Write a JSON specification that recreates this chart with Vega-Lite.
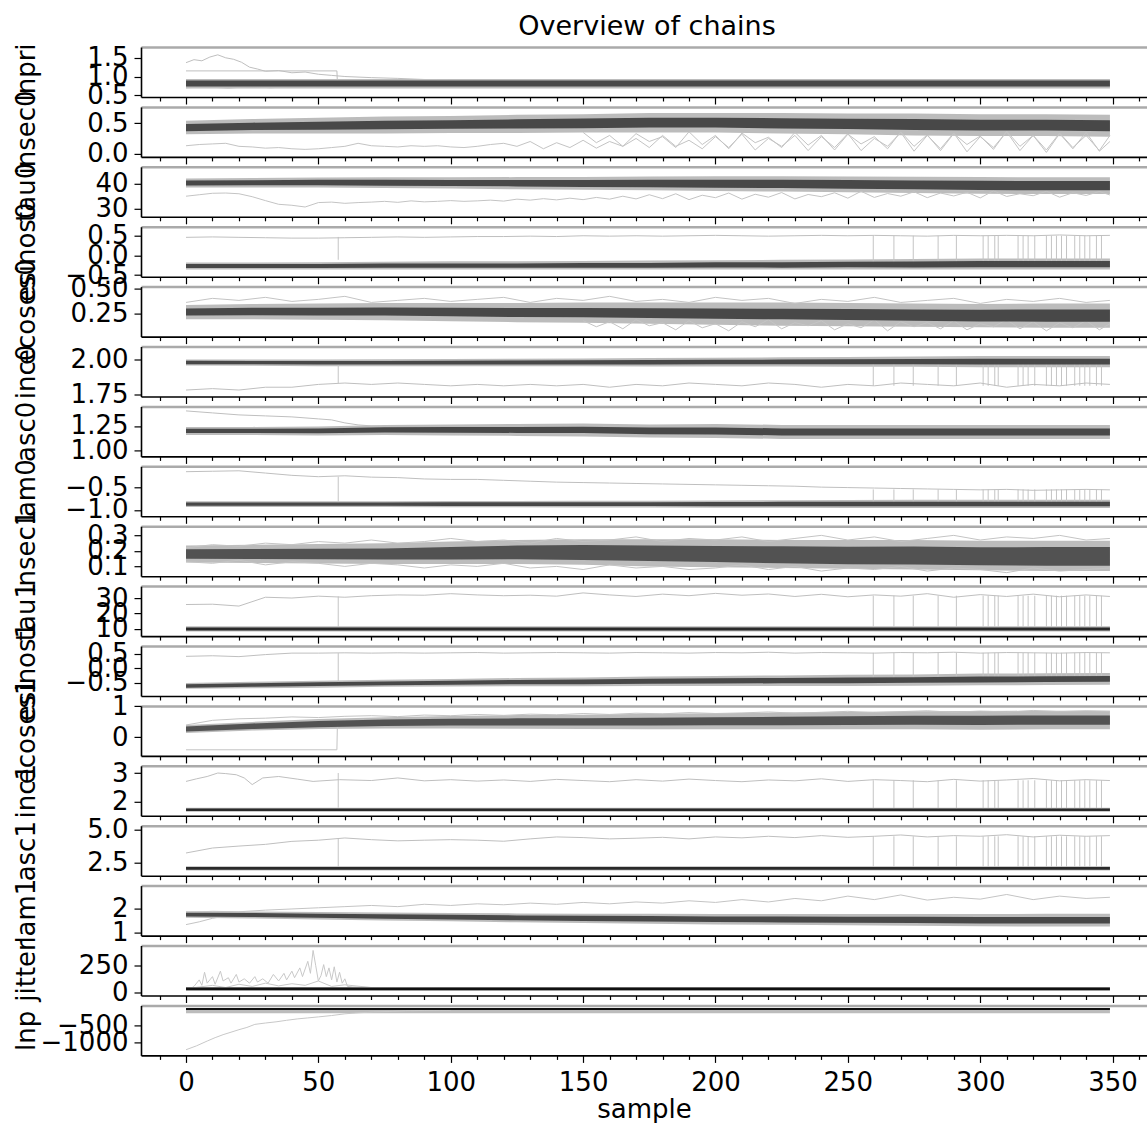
{
  "$schema": "https://vega.github.io/schema/vega-lite/v6.json",
  "padding": {"left": 13, "top": 13, "right": 0, "bottom": 0},
  "background": "white",
  "title": {"text": "Overview of chains", "font": "DejaVu Sans", "fontSize": 27, "fontWeight": "normal", "color": "#000000", "frame": "group", "anchor": "middle", "baseline": "alphabetic", "offset": -19.5, "dx": 3},
  "spacing": 9.9,
  "bounds": "flush",
  "datasets": {
    "band": [
      {"p": "lnpri", "s": [0,25,50,75,100,125,150,175,200,225,250,275,300,325,349], "l1": [0.73,0.73,0.73,0.73,0.73,0.73,0.73,0.73,0.73,0.73,0.73,0.73,0.73,0.73,0.73], "h1": [0.89,0.89,0.89,0.89,0.89,0.89,0.89,0.89,0.89,0.89,0.89,0.89,0.89,0.89,0.89], "l2": [0.68,0.68,0.68,0.68,0.68,0.68,0.68,0.68,0.68,0.68,0.68,0.68,0.68,0.68,0.68], "h2": [0.93,0.93,0.93,0.93,0.93,0.93,0.93,0.93,0.93,0.93,0.93,0.93,0.93,0.93,0.93]},
      {"p": "insec0", "s": [0,25,50,75,100,125,150,175,200,225,250,275,300,325,349], "l1": [0.37,0.39,0.395,0.40,0.41,0.415,0.42,0.43,0.43,0.415,0.405,0.39,0.38,0.38,0.37], "h1": [0.49,0.51,0.525,0.54,0.55,0.565,0.58,0.59,0.59,0.585,0.575,0.57,0.56,0.56,0.55], "l2": [0.32,0.33,0.33,0.33,0.34,0.34,0.35,0.35,0.35,0.33,0.32,0.30,0.29,0.29,0.28], "h2": [0.54,0.57,0.59,0.61,0.62,0.64,0.65,0.67,0.67,0.67,0.66,0.66,0.65,0.65,0.64]},
      {"p": "tau0", "s": [0,25,50,75,100,125,150,175,200,225,250,275,300,325,349], "l1": [39.4,39.5,39.5,39.3,39.2,39.0,38.8,38.7,38.5,38.3,38.0,37.8,37.5,37.4,37.4], "h1": [41.4,41.5,41.7,41.7,41.6,41.6,41.6,41.7,41.7,41.7,41.6,41.4,41.3,41.2,41.2], "l2": [38.6,38.6,38.6,38.3,38.1,37.8,37.6,37.4,37.1,36.9,36.6,36.3,36.0,35.9,35.9], "h2": [42.2,42.4,42.6,42.7,42.7,42.8,42.8,43.0,43.1,43.1,43.0,42.9,42.8,42.7,42.7]},
      {"p": "esinos0", "s": [0,25,50,75,100,125,150,175,200,225,250,275,300,325,349], "l1": [-0.32,-0.32,-0.32,-0.315,-0.315,-0.315,-0.31,-0.31,-0.305,-0.31,-0.30,-0.305,-0.30,-0.30,-0.30], "h1": [-0.22,-0.22,-0.22,-0.205,-0.205,-0.205,-0.19,-0.19,-0.175,-0.17,-0.16,-0.155,-0.14,-0.14,-0.14], "l2": [-0.36,-0.36,-0.36,-0.36,-0.36,-0.36,-0.36,-0.36,-0.36,-0.36,-0.36,-0.36,-0.36,-0.36,-0.36], "h2": [-0.18,-0.18,-0.17,-0.16,-0.15,-0.15,-0.14,-0.13,-0.12,-0.11,-0.10,-0.09,-0.08,-0.08,-0.08]},
      {"p": "ecoses0", "s": [0,25,50,75,100,125,150,175,200,225,250,275,300,325,349], "l1": [0.23,0.233,0.232,0.23,0.223,0.216,0.214,0.207,0.2,0.193,0.186,0.18,0.172,0.17,0.17], "h1": [0.30,0.307,0.308,0.31,0.307,0.304,0.306,0.303,0.3,0.297,0.294,0.29,0.288,0.29,0.29], "l2": [0.195,0.195,0.19,0.185,0.175,0.165,0.16,0.15,0.14,0.13,0.125,0.12,0.115,0.11,0.11], "h2": [0.335,0.345,0.35,0.355,0.355,0.355,0.36,0.36,0.36,0.36,0.355,0.35,0.345,0.35,0.35]},
      {"p": "inc0", "s": [0,25,50,75,100,125,150,175,200,225,250,275,300,325,349], "l1": [1.964,1.963,1.961,1.961,1.961,1.962,1.962,1.962,1.963,1.963,1.963,1.963,1.962,1.962,1.962], "h1": [1.988,1.987,1.987,1.987,1.989,1.99,1.992,1.994,1.995,1.997,1.999,2.001,2.002,2.002,2.002], "l2": [1.954,1.953,1.95,1.949,1.949,1.949,1.949,1.948,1.948,1.947,1.946,1.945,1.942,1.942,1.942], "h2": [1.998,1.997,1.998,1.999,2.001,2.003,2.005,2.008,2.01,2.013,2.016,2.019,2.022,2.022,2.022]},
      {"p": "asc0", "s": [0,25,50,75,100,125,150,175,200,225,250,275,300,325,349], "l1": [1.178,1.178,1.176,1.184,1.182,1.18,1.178,1.166,1.165,1.155,1.155,1.155,1.155,1.155,1.155], "h1": [1.222,1.222,1.224,1.236,1.238,1.24,1.242,1.234,1.235,1.225,1.225,1.225,1.225,1.225,1.225], "l2": [1.16,1.16,1.155,1.16,1.155,1.15,1.145,1.135,1.13,1.12,1.12,1.12,1.12,1.12,1.12], "h2": [1.24,1.24,1.245,1.26,1.265,1.27,1.275,1.265,1.27,1.26,1.26,1.26,1.26,1.26,1.26]},
      {"p": "lam0", "s": [0,25,50,75,100,125,150,175,200,225,250,275,300,325,349], "l1": [-0.91,-0.91,-0.91,-0.912,-0.914,-0.915,-0.917,-0.918,-0.92,-0.92,-0.92,-0.92,-0.92,-0.92,-0.92], "h1": [-0.84,-0.84,-0.84,-0.838,-0.836,-0.835,-0.833,-0.832,-0.83,-0.825,-0.822,-0.82,-0.82,-0.82,-0.82], "l2": [-0.937,-0.937,-0.94,-0.94,-0.945,-0.945,-0.95,-0.95,-0.955,-0.955,-0.96,-0.96,-0.96,-0.96,-0.96], "h2": [-0.813,-0.813,-0.81,-0.81,-0.805,-0.805,-0.8,-0.8,-0.795,-0.79,-0.785,-0.78,-0.78,-0.78,-0.78]},
      {"p": "insec1", "s": [0,25,50,75,100,125,150,175,200,225,250,275,300,325,349], "l1": [0.15,0.148,0.146,0.144,0.145,0.146,0.142,0.135,0.128,0.12,0.114,0.112,0.107,0.105,0.105], "h1": [0.21,0.212,0.214,0.216,0.225,0.234,0.238,0.235,0.232,0.23,0.226,0.228,0.223,0.225,0.225], "l2": [0.125,0.122,0.118,0.115,0.115,0.115,0.11,0.1,0.095,0.09,0.085,0.08,0.075,0.07,0.07], "h2": [0.235,0.24,0.245,0.25,0.26,0.27,0.275,0.275,0.275,0.27,0.27,0.27,0.265,0.265,0.265]},
      {"p": "tau1", "s": [0,25,50,75,100,125,150,175,200,225,250,275,300,325,349], "l1": [9.0,9.0,9.0,9.0,9.0,9.0,9.0,9.0,9.0,9.0,9.0,9.0,9.0,9.0,9.0], "h1": [11.0,11.0,11.0,11.0,11.0,11.0,11.0,11.0,11.0,11.0,11.0,11.0,11.0,11.0,11.0], "l2": [8.3,8.3,8.3,8.3,8.3,8.3,8.3,8.3,8.3,8.3,8.3,8.3,8.3,8.3,8.3], "h2": [11.7,11.7,11.7,11.7,11.7,11.7,11.7,11.7,11.7,11.7,11.7,11.7,11.7,11.7,11.7]},
      {"p": "esinos1", "s": [0,25,50,75,100,125,150,175,200,225,250,275,300,325,349], "l1": [-0.66,-0.63,-0.605,-0.575,-0.56,-0.545,-0.54,-0.525,-0.52,-0.51,-0.505,-0.495,-0.48,-0.47,-0.46], "h1": [-0.54,-0.51,-0.475,-0.445,-0.42,-0.395,-0.38,-0.355,-0.34,-0.33,-0.315,-0.305,-0.28,-0.27,-0.26], "l2": [-0.70,-0.68,-0.66,-0.63,-0.62,-0.61,-0.61,-0.60,-0.60,-0.60,-0.60,-0.59,-0.58,-0.57,-0.56], "h2": [-0.50,-0.46,-0.42,-0.39,-0.36,-0.33,-0.31,-0.28,-0.26,-0.24,-0.22,-0.21,-0.18,-0.17,-0.16]},
      {"p": "ecoses1", "s": [0,25,50,75,100,125,150,175,200,225,250,275,300,325,349], "l1": [0.19,0.27,0.33,0.365,0.38,0.385,0.38,0.385,0.39,0.395,0.40,0.405,0.40,0.41,0.41], "h1": [0.35,0.45,0.53,0.575,0.60,0.615,0.62,0.635,0.65,0.665,0.68,0.695,0.70,0.71,0.71], "l2": [0.14,0.22,0.27,0.29,0.29,0.28,0.27,0.26,0.26,0.26,0.26,0.26,0.25,0.26,0.26], "h2": [0.40,0.50,0.59,0.65,0.69,0.72,0.73,0.76,0.78,0.80,0.82,0.84,0.85,0.86,0.86]},
      {"p": "inc1", "s": [0,25,50,75,100,125,150,175,200,225,250,275,300,325,349], "l1": [1.69,1.69,1.69,1.69,1.69,1.69,1.69,1.69,1.69,1.69,1.69,1.69,1.69,1.69,1.69], "h1": [1.77,1.77,1.77,1.77,1.77,1.77,1.77,1.77,1.77,1.77,1.77,1.77,1.77,1.77,1.77], "l2": [1.66,1.66,1.66,1.66,1.66,1.66,1.66,1.66,1.66,1.66,1.66,1.66,1.66,1.66,1.66], "h2": [1.80,1.80,1.80,1.80,1.80,1.80,1.80,1.80,1.80,1.80,1.80,1.80,1.80,1.80,1.80]},
      {"p": "asc1", "s": [0,25,50,75,100,125,150,175,200,225,250,275,300,325,349], "l1": [1.94,1.94,1.94,1.94,1.94,1.94,1.94,1.94,1.94,1.94,1.94,1.94,1.94,1.94,1.94], "h1": [2.14,2.14,2.14,2.14,2.14,2.14,2.14,2.14,2.14,2.14,2.14,2.14,2.14,2.14,2.14], "l2": [1.88,1.88,1.88,1.88,1.88,1.88,1.88,1.88,1.88,1.88,1.88,1.88,1.88,1.88,1.88], "h2": [2.20,2.20,2.20,2.20,2.20,2.20,2.20,2.20,2.20,2.20,2.20,2.20,2.20,2.20,2.20]},
      {"p": "lam1", "s": [0,25,50,75,100,125,150,175,200,225,250,275,300,325,349], "l1": [1.68,1.655,1.62,1.585,1.55,1.515,1.49,1.465,1.44,1.425,1.41,1.395,1.38,1.38,1.38], "h1": [1.84,1.825,1.80,1.775,1.75,1.725,1.71,1.695,1.68,1.675,1.67,1.665,1.66,1.66,1.66], "l2": [1.62,1.59,1.55,1.51,1.47,1.43,1.40,1.37,1.34,1.32,1.30,1.28,1.26,1.25,1.25], "h2": [1.90,1.89,1.87,1.85,1.83,1.81,1.80,1.79,1.78,1.78,1.78,1.78,1.78,1.79,1.79]},
      {"p": "jitter", "s": [0,25,50,75,100,125,150,175,200,225,250,275,300,325,349], "l1": [24,24,24,24,24,24,24,24,24,24,24,24,24,24,24], "h1": [50,50,50,50,50,50,50,50,50,50,50,50,50,50,50], "l2": [20,20,20,20,20,20,20,20,20,20,20,20,20,20,20], "h2": [55,55,55,55,55,55,55,55,55,55,55,55,55,55,55]},
      {"p": "lnp", "s": [0,25,50,75,100,125,150,175,200,225,250,275,300,325,349], "l1": [-45,-45,-45,-45,-45,-45,-45,-45,-45,-45,-45,-45,-45,-45,-45], "h1": [8,8,8,8,8,8,8,8,8,8,8,8,8,8,8], "l2": [-140,-140,-140,-140,-140,-140,-140,-140,-140,-140,-140,-140,-140,-140,-140], "h2": [12,12,12,12,12,12,12,12,12,12,12,12,12,12,12]}
    ],
    "chain": [
      {"p": "lnpri", "c": "a", "s": [0,3,6,9,12,15,18,21,24,27,30,35,40,45,50,55,60,70,80,90,100,110,120], "v": [1.37,1.45,1.42,1.52,1.58,1.50,1.46,1.38,1.25,1.20,1.14,1.16,1.10,1.12,1.06,1.03,1.00,0.97,0.95,0.92,0.90,0.87,0.84]},
      {"p": "lnpri", "c": "b", "s": [0,57,57.2], "v": [1.15,1.15,0.82]},
      {"p": "lnpri", "c": "c", "s": [0,8,16,24,32,40,48,56,64], "v": [0.70,0.72,0.69,0.73,0.70,0.73,0.72,0.75,0.77]},
      {"p": "insec0", "c": "a", "s": [0,5,10,15,20,25,30,35,40,45,50,55,60,65,70,75,80,85,90,95,100,105,110,115,120,125,130,135,140,145,150,155,160,165,170,175,180,185,190,195,200,205,210,215,220,225,230,235,240,245,250,255,260,265,270,275,280,285,290,295,300,305,310,315,320,325,330,335,340,345,349], "v": [0.13,0.15,0.16,0.17,0.12,0.11,0.09,0.10,0.08,0.07,0.08,0.10,0.12,0.17,0.13,0.12,0.11,0.13,0.12,0.13,0.11,0.10,0.12,0.15,0.17,0.12,0.20,0.08,0.18,0.10,0.22,0.09,0.20,0.12,0.25,0.10,0.30,0.12,0.22,0.08,0.28,0.10,0.32,0.06,0.25,0.12,0.30,0.05,0.28,0.10,0.33,0.05,0.25,0.12,0.35,0.04,0.30,0.08,0.34,0.03,0.28,0.10,0.36,0.05,0.30,0.02,0.33,0.08,0.35,0.04,0.20]},
      {"p": "insec0", "c": "b", "s": [150,155,160,165,170,175,180,185,190,195,200,205,210,215,220,225,230,235,240,245,250,255,260,265,270,275,280,285,290,295,300,305,310,315,320,325,330,335,340,345,349], "v": [0.35,0.18,0.30,0.12,0.33,0.2,0.28,0.1,0.36,0.15,0.3,0.08,0.34,0.18,0.27,0.1,0.35,0.14,0.3,0.06,0.32,0.16,0.28,0.08,0.36,0.12,0.31,0.05,0.33,0.15,0.29,0.07,0.37,0.12,0.3,0.06,0.34,0.1,0.3,0.05,0.3]},
      {"p": "tau0", "c": "a", "s": [0,5,10,15,20,25,30,35,40,45,50,55,60,65,70,75,80,85,90,95,100,105,110,115,120,125,130,135,140,145,150,155,160,165,170,175,180,185,190,195,200,205,210,215,220,225,230,235,240,245,250,255,260,265,270,275,280,285,290,295,300,305,310,315,320,325,330,335,340,345,349], "v": [35.0,35.6,36.2,36.3,36.0,34.8,33.2,31.7,31.3,30.6,32.4,32.6,32.1,32.4,32.6,32.9,32.5,33.1,32.7,32.9,33.2,32.9,33.1,33.4,33.0,33.8,33.4,34.0,33.5,34.2,33.6,34.5,33.8,35.0,33.9,35.6,34.0,36.0,33.6,35.4,34.4,36.3,33.8,35.8,34.6,36.5,33.9,35.7,34.8,36.4,34.2,37.0,34.5,36.1,35.0,36.8,34.4,36.3,35.1,36.6,34.3,37.2,34.9,36.0,35.2,37.0,34.6,36.4,35.3,36.9,35.5]},
      {"p": "esinos0", "c": "a", "s": [0,10,20,30,40,50,60,70,80,90,100,110,120,130,140,150,160,170,180,190,200,210,220,230,240,250,260,270,280,290,300,310,320,330,340,349], "v": [0.46,0.47,0.46,0.45,0.44,0.44,0.45,0.46,0.47,0.46,0.47,0.48,0.48,0.49,0.48,0.50,0.49,0.50,0.49,0.50,0.51,0.50,0.49,0.50,0.51,0.50,0.51,0.50,0.49,0.51,0.50,0.51,0.50,0.52,0.50,0.51]},
      {"p": "ecoses0", "c": "a", "s": [0,10,20,30,40,50,60,70,80,90,100,110,120,130,140,150,160,170,180,190,200,210,220,230,240,250,260,270,280,290,300,310,320,330,340,349], "v": [0.36,0.40,0.38,0.41,0.37,0.39,0.42,0.36,0.38,0.40,0.37,0.39,0.41,0.36,0.40,0.38,0.42,0.37,0.39,0.36,0.41,0.38,0.40,0.35,0.39,0.37,0.41,0.36,0.38,0.40,0.35,0.39,0.37,0.40,0.36,0.38]},
      {"p": "ecoses0", "c": "b", "s": [150,155,160,165,170,175,180,185,190,195,200,205,210,215,220,225,230,235,240,245,250,255,260,265,270,275,280,285,290,295,300,305,310,315,320,325,330,335,340,345,349], "v": [0.18,0.12,0.17,0.10,0.19,0.13,0.16,0.09,0.18,0.11,0.15,0.08,0.17,0.12,0.19,0.10,0.16,0.13,0.18,0.09,0.15,0.11,0.19,0.08,0.17,0.12,0.16,0.10,0.18,0.09,0.15,0.12,0.19,0.10,0.17,0.08,0.16,0.11,0.18,0.09,0.15]},
      {"p": "inc0", "c": "a", "s": [0,10,20,30,40,50,60,70,80,90,100,110,120,130,140,150,160,170,180,190,200,210,220,230,240,250,260,270,280,290,300,310,320,330,340,349], "v": [1.78,1.79,1.78,1.80,1.80,1.82,1.83,1.82,1.83,1.82,1.81,1.82,1.81,1.82,1.81,1.82,1.80,1.82,1.81,1.83,1.82,1.81,1.83,1.82,1.80,1.82,1.81,1.83,1.82,1.81,1.83,1.80,1.82,1.81,1.83,1.82]},
      {"p": "asc0", "c": "a", "s": [0,10,20,30,40,50,55,60,65,70,80,90], "v": [1.40,1.38,1.36,1.35,1.34,1.32,1.31,1.28,1.26,1.25,1.24,1.23]},
      {"p": "lam0", "c": "a", "s": [0,10,20,30,40,50,60,70,80,90,100,110,120,130,140,150,160,170,180,190,200,210,220,230,240,250,260,270,280,290,300,310,320,330,340,349], "v": [-0.16,-0.15,-0.14,-0.19,-0.24,-0.27,-0.25,-0.28,-0.29,-0.32,-0.33,-0.33,-0.35,-0.37,-0.39,-0.40,-0.41,-0.42,-0.43,-0.44,-0.45,-0.46,-0.47,-0.48,-0.50,-0.51,-0.52,-0.53,-0.54,-0.55,-0.56,-0.55,-0.57,-0.56,-0.55,-0.56]},
      {"p": "insec1", "c": "a", "s": [0,10,20,30,40,50,60,70,80,90,100,110,120,130,140,150,160,170,180,190,200,210,220,230,240,250,260,270,280,290,300,310,320,330,340,349], "v": [0.22,0.24,0.23,0.25,0.24,0.26,0.25,0.27,0.25,0.26,0.28,0.26,0.27,0.25,0.28,0.26,0.27,0.29,0.26,0.28,0.27,0.29,0.26,0.28,0.30,0.27,0.29,0.26,0.28,0.30,0.27,0.29,0.28,0.30,0.27,0.28]},
      {"p": "insec1", "c": "b", "s": [0,10,20,30,40,50,60,70,80,90,100,110,120,130,140,150,160,170,180,190,200,210,220,230,240,250,260,270,280,290,300,310,320,330,340,349], "v": [0.13,0.12,0.14,0.11,0.13,0.12,0.10,0.12,0.11,0.09,0.11,0.10,0.12,0.09,0.10,0.08,0.11,0.09,0.10,0.08,0.09,0.11,0.08,0.10,0.07,0.09,0.08,0.10,0.07,0.09,0.08,0.06,0.09,0.07,0.08,0.09]},
      {"p": "tau1", "c": "a", "s": [0,10,20,30,40,50,60,70,80,90,100,110,120,130,140,150,160,170,180,190,200,210,220,230,240,250,260,270,280,290,300,310,320,330,340,349], "v": [25.8,26.0,24.8,30.5,30.0,31.2,30.5,31.5,32.0,31.8,32.8,32.0,31.5,31.8,31.2,33.3,32.0,31.0,32.5,31.5,33.0,31.8,32.6,31.0,32.4,30.8,32.0,31.2,32.8,30.5,32.2,31.0,32.5,30.8,32.0,31.0]},
      {"p": "esinos1", "c": "a", "s": [0,10,20,30,40,50,60,70,80,90,100,110,120,130,140,150,160,170,180,190,200,210,220,230,240,250,260,270,280,290,300,310,320,330,340,349], "v": [0.41,0.43,0.40,0.47,0.52,0.52,0.53,0.52,0.53,0.52,0.53,0.54,0.52,0.53,0.54,0.53,0.52,0.54,0.53,0.52,0.54,0.53,0.55,0.52,0.54,0.53,0.52,0.54,0.53,0.55,0.52,0.54,0.53,0.52,0.54,0.53]},
      {"p": "ecoses1", "c": "a", "s": [0,10,20,30,40,50,60,70,80,90,100,110,120,130,140,150,160,170,180,190,200,210,220,230,240,250,260,270,280,290,300,310,320,330,340,349], "v": [0.40,0.55,0.60,0.62,0.66,0.64,0.68,0.70,0.67,0.72,0.70,0.74,0.71,0.75,0.73,0.77,0.74,0.78,0.76,0.80,0.77,0.79,0.82,0.78,0.81,0.84,0.80,0.83,0.86,0.81,0.85,0.82,0.87,0.83,0.86,0.84]},
      {"p": "ecoses1", "c": "b", "s": [0,57,57.2], "v": [-0.4,-0.4,0.45]},
      {"p": "inc1", "c": "a", "s": [0,4,8,12,15,19,22,25,29,35,42,48,58,70,80,90,100,110,120,130,140,150,160,170,180,190,200,210,220,230,240,250,260,270,280,290,300,310,320,330,340,349], "v": [2.71,2.80,2.88,3.00,2.98,2.94,2.83,2.60,2.83,2.88,2.79,2.71,2.77,2.74,2.83,2.73,2.77,2.72,2.76,2.71,2.78,2.74,2.70,2.77,2.72,2.79,2.74,2.70,2.76,2.73,2.80,2.71,2.77,2.74,2.70,2.78,2.72,2.76,2.81,2.73,2.77,2.74]},
      {"p": "asc1", "c": "a", "s": [0,10,20,30,40,50,60,70,80,90,100,110,120,130,140,150,160,170,180,190,200,210,220,230,240,250,260,270,280,290,300,310,320,330,340,349], "v": [3.22,3.60,3.75,3.88,4.11,4.20,4.37,4.24,4.15,4.20,4.24,4.20,4.12,4.30,4.45,4.40,4.30,4.35,4.42,4.30,4.45,4.38,4.50,4.40,4.55,4.42,4.50,4.60,4.45,4.55,4.50,4.62,4.45,4.58,4.50,4.55]},
      {"p": "lam1", "c": "a", "s": [0,10,20,30,40,50,60,70,80,90,100,110,120,130,140,150,160,170,180,190,200,210,220,230,240,250,260,270,280,290,300,310,320,330,340,349], "v": [1.85,1.90,1.88,1.95,2.00,2.05,2.10,2.15,2.10,2.20,2.15,2.22,2.18,2.25,2.20,2.28,2.22,2.30,2.25,2.35,2.28,2.40,2.30,2.45,2.35,2.55,2.40,2.60,2.38,2.50,2.42,2.62,2.40,2.55,2.45,2.50]},
      {"p": "lam1", "c": "b", "s": [0,5,10,15], "v": [1.33,1.45,1.6,1.7]},
      {"p": "jitter", "c": "a", "s": [0,2,3,5,6,7,8,10,11,13,14,16,17,19,20,22,24,26,27,29,31,33,35,37,38,40,41,43,44,46,47,48,49,50,51,52,53,54,55,56,57,58,59,60,61,63,70,80,90,100,349], "v": [40,45,60,120,70,190,90,150,80,200,110,140,90,170,100,130,90,150,100,130,90,170,110,180,120,200,140,230,150,290,180,390,250,110,160,260,150,230,120,240,100,190,90,130,60,55,50,48,42,40,38]},
      {"p": "jitter", "c": "b", "s": [0,5,10,15,20,25,30,35,40,45,50,55,60,70,80,90,100], "v": [40,55,70,50,80,60,90,65,85,70,110,60,75,50,48,45,40]},
      {"p": "lnp", "c": "a", "s": [0,4,8,11,14,17,20,23,26,30,34,38,42,46,50,55,60,65,71,77,83,90,100], "v": [-1215,-1100,-960,-860,-773,-700,-626,-560,-470,-430,-395,-350,-310,-280,-250,-210,-160,-130,-106,-90,-70,-60,-50]}
    ],
    "jump": [
      {"p": "esinos0", "s": [57.5], "y1": -0.11, "y2": 0.47},
      {"p": "esinos0", "s": [259.6,267.4,274.7,284.1,291,301.1,303,305.5,306.8,314.3,316.2,318.1,320.6,325,326.9,328.8,330.7,332.6,335.7,337.6,339.5,341.4,343.9,345.8], "y1": -0.22, "y2": 0.5},
      {"p": "inc0", "s": [57.5], "y1": 1.83, "y2": 1.96},
      {"p": "inc0", "s": [259.6,267.4,274.7,284.1,291,301.1,303,305.5,306.8,314.3,316.2,318.1,320.6,325,326.9,328.8,330.7,332.6,335.7,337.6,339.5,341.4,343.9,345.8], "y1": 1.81, "y2": 1.98},
      {"p": "lam0", "s": [57.5], "y1": -0.85, "y2": -0.27},
      {"p": "lam0", "s": [259.6,267.4,274.7,284.1,291,301.1,303,305.5,306.8,314.3,316.2,318.1,320.6,325,326.9,328.8,330.7,332.6,335.7,337.6,339.5,341.4,343.9,345.8], "y1": -0.87, "y2": -0.55},
      {"p": "tau1", "s": [57.5], "y1": 10, "y2": 31},
      {"p": "tau1", "s": [259.6,267.4,274.7,284.1,291,301.1,303,305.5,306.8,314.3,316.2,318.1,320.6,325,326.9,328.8,330.7,332.6,335.7,337.6,339.5,341.4,343.9,345.8], "y1": 10, "y2": 31.5},
      {"p": "esinos1", "s": [57.5], "y1": -0.56, "y2": 0.52},
      {"p": "esinos1", "s": [259.6,267.4,274.7,284.1,291,301.1,303,305.5,306.8,314.3,316.2,318.1,320.6,325,326.9,328.8,330.7,332.6,335.7,337.6,339.5,341.4,343.9,345.8], "y1": -0.36, "y2": 0.53},
      {"p": "inc1", "s": [57.5], "y1": 1.8, "y2": 3.0},
      {"p": "inc1", "s": [259.6,267.4,274.7,284.1,291,301.1,303,305.5,306.8,314.3,316.2,318.1,320.6,325,326.9,328.8,330.7,332.6,335.7,337.6,339.5,341.4,343.9,345.8], "y1": 1.73, "y2": 2.75},
      {"p": "asc1", "s": [57.5], "y1": 2.07, "y2": 4.37},
      {"p": "asc1", "s": [259.6,267.4,274.7,284.1,291,301.1,303,305.5,306.8,314.3,316.2,318.1,320.6,325,326.9,328.8,330.7,332.6,335.7,337.6,339.5,341.4,343.9,345.8], "y1": 2.04, "y2": 4.5}
    ]
  },
  "vconcat": [
    {"width": 1006, "height": 50, "resolve": {"axis": {"x": "independent", "y": "independent"}}, "layer": [
      {"data": {"name": "band"}, "transform": [{"filter": "datum.p === 'lnpri'"}, {"flatten": ["s","l1","h1","l2","h2"]}], "mark": {"type": "area", "color": "#7a7a7a", "opacity": 0.5, "clip": true}, "encoding": {"x": {"field": "s", "type": "quantitative", "scale": {"domain": [-17, 363], "nice": false, "zero": false}, "axis": {"orient": "bottom", "values": [0,50,100,150,200,250,300,350], "title": null}}, "y": {"field": "l2", "type": "quantitative", "scale": {"domain": [0.452, 1.789], "nice": false, "zero": false}, "axis": {"orient": "left", "values": [0.5,1.5], "format": ".1f", "title": "lnpri"}}, "y2": {"field": "h2"}}},
      {"data": {"name": "chain"}, "transform": [{"filter": "datum.p === 'lnpri'"}, {"flatten": ["s","v"]}], "mark": {"type": "line", "color": "#bfbfbf", "strokeWidth": 1, "clip": true}, "encoding": {"x": {"field": "s", "type": "quantitative", "axis": {"orient": "top", "domainColor": "#aaaaaa", "domainWidth": 2.5, "ticks": false, "labels": false, "title": null}}, "y": {"field": "v", "type": "quantitative", "axis": {"orient": "left", "values": [1], "format": ".1f", "domain": false, "title": null}}, "detail": {"field": "c", "type": "nominal"}}},
      {"data": {"name": "band"}, "transform": [{"filter": "datum.p === 'lnpri'"}, {"flatten": ["s","l1","h1","l2","h2"]}], "mark": {"type": "area", "color": "#383838", "opacity": 0.88, "clip": true}, "encoding": {"x": {"field": "s", "type": "quantitative", "axis": {"orient": "bottom", "values": [-10,10,20,30,40,60,70,80,90,110,120,130,140,160,170,180,190,210,220,230,240,260,270,280,290,310,320,330,340,360], "tickSize": 4, "domain": false, "labels": false, "title": null}}, "y": {"field": "l1", "type": "quantitative", "axis": null}, "y2": {"field": "h1"}}}
    ]},
    {"width": 1006, "height": 50, "resolve": {"axis": {"x": "independent"}}, "layer": [
      {"data": {"name": "band"}, "transform": [{"filter": "datum.p === 'insec0'"}, {"flatten": ["s","l1","h1","l2","h2"]}], "mark": {"type": "area", "color": "#7a7a7a", "opacity": 0.5, "clip": true}, "encoding": {"x": {"field": "s", "type": "quantitative", "scale": {"domain": [-17, 363], "nice": false, "zero": false}, "axis": {"orient": "bottom", "values": [0,50,100,150,200,250,300,350], "title": null}}, "y": {"field": "l2", "type": "quantitative", "scale": {"domain": [-0.054, 0.77], "nice": false, "zero": false}, "axis": {"orient": "left", "values": [0,0.5], "format": ".1f", "title": "insec0"}}, "y2": {"field": "h2"}}},
      {"data": {"name": "chain"}, "transform": [{"filter": "datum.p === 'insec0'"}, {"flatten": ["s","v"]}], "mark": {"type": "line", "color": "#c4c4c4", "strokeWidth": 1, "clip": true}, "encoding": {"x": {"field": "s", "type": "quantitative", "axis": {"orient": "top", "domainColor": "#aaaaaa", "domainWidth": 2.5, "ticks": false, "labels": false, "title": null}}, "y": {"field": "v", "type": "quantitative"}, "detail": {"field": "c", "type": "nominal"}}},
      {"data": {"name": "band"}, "transform": [{"filter": "datum.p === 'insec0'"}, {"flatten": ["s","l1","h1","l2","h2"]}], "mark": {"type": "area", "color": "#383838", "opacity": 0.88, "clip": true}, "encoding": {"x": {"field": "s", "type": "quantitative", "axis": {"orient": "bottom", "values": [-10,10,20,30,40,60,70,80,90,110,120,130,140,160,170,180,190,210,220,230,240,260,270,280,290,310,320,330,340,360], "tickSize": 4, "domain": false, "labels": false, "title": null}}, "y": {"field": "l1", "type": "quantitative"}, "y2": {"field": "h1"}}}
    ]},
    {"width": 1006, "height": 50, "resolve": {"axis": {"x": "independent"}}, "layer": [
      {"data": {"name": "band"}, "transform": [{"filter": "datum.p === 'tau0'"}, {"flatten": ["s","l1","h1","l2","h2"]}], "mark": {"type": "area", "color": "#7a7a7a", "opacity": 0.5, "clip": true}, "encoding": {"x": {"field": "s", "type": "quantitative", "scale": {"domain": [-17, 363], "nice": false, "zero": false}, "axis": {"orient": "bottom", "values": [0,50,100,150,200,250,300,350], "title": null}}, "y": {"field": "l2", "type": "quantitative", "scale": {"domain": [26.6, 47.0], "nice": false, "zero": false}, "axis": {"orient": "left", "values": [30,40], "format": "d", "title": "tau0"}}, "y2": {"field": "h2"}}},
      {"data": {"name": "chain"}, "transform": [{"filter": "datum.p === 'tau0'"}, {"flatten": ["s","v"]}], "mark": {"type": "line", "color": "#c4c4c4", "strokeWidth": 1, "clip": true}, "encoding": {"x": {"field": "s", "type": "quantitative", "axis": {"orient": "top", "domainColor": "#aaaaaa", "domainWidth": 2.5, "ticks": false, "labels": false, "title": null}}, "y": {"field": "v", "type": "quantitative"}, "detail": {"field": "c", "type": "nominal"}}},
      {"data": {"name": "band"}, "transform": [{"filter": "datum.p === 'tau0'"}, {"flatten": ["s","l1","h1","l2","h2"]}], "mark": {"type": "area", "color": "#383838", "opacity": 0.88, "clip": true}, "encoding": {"x": {"field": "s", "type": "quantitative", "axis": {"orient": "bottom", "values": [-10,10,20,30,40,60,70,80,90,110,120,130,140,160,170,180,190,210,220,230,240,260,270,280,290,310,320,330,340,360], "tickSize": 4, "domain": false, "labels": false, "title": null}}, "y": {"field": "l1", "type": "quantitative"}, "y2": {"field": "h1"}}}
    ]},
    {"width": 1006, "height": 50, "resolve": {"axis": {"x": "independent", "y": "independent"}}, "layer": [
      {"data": {"name": "band"}, "transform": [{"filter": "datum.p === 'esinos0'"}, {"flatten": ["s","l1","h1","l2","h2"]}], "mark": {"type": "area", "color": "#7a7a7a", "opacity": 0.5, "clip": true}, "encoding": {"x": {"field": "s", "type": "quantitative", "scale": {"domain": [-17, 363], "nice": false, "zero": false}, "axis": {"orient": "bottom", "values": [0,50,100,150,200,250,300,350], "title": null}}, "y": {"field": "l2", "type": "quantitative", "scale": {"domain": [-0.54, 0.73], "nice": false, "zero": false}, "axis": {"orient": "left", "values": [-0.5,0.5], "format": ".1f", "title": "esinos0"}}, "y2": {"field": "h2"}}},
      {"data": {"name": "jump"}, "transform": [{"filter": "datum.p === 'esinos0'"}, {"flatten": ["s"]}], "mark": {"type": "rule", "color": "#c4c4c4", "strokeWidth": 1, "clip": true}, "encoding": {"x": {"field": "s", "type": "quantitative", "axis": null}, "y": {"field": "y1", "type": "quantitative", "axis": null}, "y2": {"field": "y2"}}},
      {"data": {"name": "chain"}, "transform": [{"filter": "datum.p === 'esinos0'"}, {"flatten": ["s","v"]}], "mark": {"type": "line", "color": "#bfbfbf", "strokeWidth": 1, "clip": true}, "encoding": {"x": {"field": "s", "type": "quantitative", "axis": {"orient": "top", "domainColor": "#aaaaaa", "domainWidth": 2.5, "ticks": false, "labels": false, "title": null}}, "y": {"field": "v", "type": "quantitative", "axis": {"orient": "left", "values": [0], "format": ".1f", "domain": false, "title": null}}, "detail": {"field": "c", "type": "nominal"}}},
      {"data": {"name": "band"}, "transform": [{"filter": "datum.p === 'esinos0'"}, {"flatten": ["s","l1","h1","l2","h2"]}], "mark": {"type": "area", "color": "#383838", "opacity": 0.88, "clip": true}, "encoding": {"x": {"field": "s", "type": "quantitative", "axis": {"orient": "bottom", "values": [-10,10,20,30,40,60,70,80,90,110,120,130,140,160,170,180,190,210,220,230,240,260,270,280,290,310,320,330,340,360], "tickSize": 4, "domain": false, "labels": false, "title": null}}, "y": {"field": "l1", "type": "quantitative", "axis": null}, "y2": {"field": "h1"}}}
    ]},
    {"width": 1006, "height": 50, "resolve": {"axis": {"x": "independent"}}, "layer": [
      {"data": {"name": "band"}, "transform": [{"filter": "datum.p === 'ecoses0'"}, {"flatten": ["s","l1","h1","l2","h2"]}], "mark": {"type": "area", "color": "#7a7a7a", "opacity": 0.5, "clip": true}, "encoding": {"x": {"field": "s", "type": "quantitative", "scale": {"domain": [-17, 363], "nice": false, "zero": false}, "axis": {"orient": "bottom", "values": [0,50,100,150,200,250,300,350], "title": null}}, "y": {"field": "l2", "type": "quantitative", "scale": {"domain": [0.023, 0.516], "nice": false, "zero": false}, "axis": {"orient": "left", "values": [0.25,0.5], "format": ".2f", "title": "ecoses0"}}, "y2": {"field": "h2"}}},
      {"data": {"name": "chain"}, "transform": [{"filter": "datum.p === 'ecoses0'"}, {"flatten": ["s","v"]}], "mark": {"type": "line", "color": "#c4c4c4", "strokeWidth": 1, "clip": true}, "encoding": {"x": {"field": "s", "type": "quantitative", "axis": {"orient": "top", "domainColor": "#aaaaaa", "domainWidth": 2.5, "ticks": false, "labels": false, "title": null}}, "y": {"field": "v", "type": "quantitative"}, "detail": {"field": "c", "type": "nominal"}}},
      {"data": {"name": "band"}, "transform": [{"filter": "datum.p === 'ecoses0'"}, {"flatten": ["s","l1","h1","l2","h2"]}], "mark": {"type": "area", "color": "#383838", "opacity": 0.88, "clip": true}, "encoding": {"x": {"field": "s", "type": "quantitative", "axis": {"orient": "bottom", "values": [-10,10,20,30,40,60,70,80,90,110,120,130,140,160,170,180,190,210,220,230,240,260,270,280,290,310,320,330,340,360], "tickSize": 4, "domain": false, "labels": false, "title": null}}, "y": {"field": "l1", "type": "quantitative"}, "y2": {"field": "h1"}}}
    ]},
    {"width": 1006, "height": 50, "resolve": {"axis": {"x": "independent"}}, "layer": [
      {"data": {"name": "band"}, "transform": [{"filter": "datum.p === 'inc0'"}, {"flatten": ["s","l1","h1","l2","h2"]}], "mark": {"type": "area", "color": "#7a7a7a", "opacity": 0.5, "clip": true}, "encoding": {"x": {"field": "s", "type": "quantitative", "scale": {"domain": [-17, 363], "nice": false, "zero": false}, "axis": {"orient": "bottom", "values": [0,50,100,150,200,250,300,350], "title": null}}, "y": {"field": "l2", "type": "quantitative", "scale": {"domain": [1.734, 2.09], "nice": false, "zero": false}, "axis": {"orient": "left", "values": [1.75,2], "format": ".2f", "title": "inc0"}}, "y2": {"field": "h2"}}},
      {"data": {"name": "jump"}, "transform": [{"filter": "datum.p === 'inc0'"}, {"flatten": ["s"]}], "mark": {"type": "rule", "color": "#c4c4c4", "strokeWidth": 1, "clip": true}, "encoding": {"x": {"field": "s", "type": "quantitative", "axis": null}, "y": {"field": "y1", "type": "quantitative"}, "y2": {"field": "y2"}}},
      {"data": {"name": "chain"}, "transform": [{"filter": "datum.p === 'inc0'"}, {"flatten": ["s","v"]}], "mark": {"type": "line", "color": "#bfbfbf", "strokeWidth": 1, "clip": true}, "encoding": {"x": {"field": "s", "type": "quantitative", "axis": {"orient": "top", "domainColor": "#aaaaaa", "domainWidth": 2.5, "ticks": false, "labels": false, "title": null}}, "y": {"field": "v", "type": "quantitative"}, "detail": {"field": "c", "type": "nominal"}}},
      {"data": {"name": "band"}, "transform": [{"filter": "datum.p === 'inc0'"}, {"flatten": ["s","l1","h1","l2","h2"]}], "mark": {"type": "area", "color": "#383838", "opacity": 0.88, "clip": true}, "encoding": {"x": {"field": "s", "type": "quantitative", "axis": {"orient": "bottom", "values": [-10,10,20,30,40,60,70,80,90,110,120,130,140,160,170,180,190,210,220,230,240,260,270,280,290,310,320,330,340,360], "tickSize": 4, "domain": false, "labels": false, "title": null}}, "y": {"field": "l1", "type": "quantitative"}, "y2": {"field": "h1"}}}
    ]},
    {"width": 1006, "height": 50, "resolve": {"axis": {"x": "independent"}}, "layer": [
      {"data": {"name": "band"}, "transform": [{"filter": "datum.p === 'asc0'"}, {"flatten": ["s","l1","h1","l2","h2"]}], "mark": {"type": "area", "color": "#7a7a7a", "opacity": 0.5, "clip": true}, "encoding": {"x": {"field": "s", "type": "quantitative", "scale": {"domain": [-17, 363], "nice": false, "zero": false}, "axis": {"orient": "bottom", "values": [0,50,100,150,200,250,300,350], "title": null}}, "y": {"field": "l2", "type": "quantitative", "scale": {"domain": [0.945, 1.445], "nice": false, "zero": false}, "axis": {"orient": "left", "values": [1,1.25], "format": ".2f", "title": "asc0"}}, "y2": {"field": "h2"}}},
      {"data": {"name": "chain"}, "transform": [{"filter": "datum.p === 'asc0'"}, {"flatten": ["s","v"]}], "mark": {"type": "line", "color": "#bfbfbf", "strokeWidth": 1, "clip": true}, "encoding": {"x": {"field": "s", "type": "quantitative", "axis": {"orient": "top", "domainColor": "#aaaaaa", "domainWidth": 2.5, "ticks": false, "labels": false, "title": null}}, "y": {"field": "v", "type": "quantitative"}, "detail": {"field": "c", "type": "nominal"}}},
      {"data": {"name": "band"}, "transform": [{"filter": "datum.p === 'asc0'"}, {"flatten": ["s","l1","h1","l2","h2"]}], "mark": {"type": "area", "color": "#383838", "opacity": 0.88, "clip": true}, "encoding": {"x": {"field": "s", "type": "quantitative", "axis": {"orient": "bottom", "values": [-10,10,20,30,40,60,70,80,90,110,120,130,140,160,170,180,190,210,220,230,240,260,270,280,290,310,320,330,340,360], "tickSize": 4, "domain": false, "labels": false, "title": null}}, "y": {"field": "l1", "type": "quantitative"}, "y2": {"field": "h1"}}}
    ]},
    {"width": 1006, "height": 50, "resolve": {"axis": {"x": "independent"}}, "layer": [
      {"data": {"name": "band"}, "transform": [{"filter": "datum.p === 'lam0'"}, {"flatten": ["s","l1","h1","l2","h2"]}], "mark": {"type": "area", "color": "#7a7a7a", "opacity": 0.5, "clip": true}, "encoding": {"x": {"field": "s", "type": "quantitative", "scale": {"domain": [-17, 363], "nice": false, "zero": false}, "axis": {"orient": "bottom", "values": [0,50,100,150,200,250,300,350], "title": null}}, "y": {"field": "l2", "type": "quantitative", "scale": {"domain": [-1.143, -0.041], "nice": false, "zero": false}, "axis": {"orient": "left", "values": [-1,-0.5], "format": ".1f", "title": "lam0"}}, "y2": {"field": "h2"}}},
      {"data": {"name": "jump"}, "transform": [{"filter": "datum.p === 'lam0'"}, {"flatten": ["s"]}], "mark": {"type": "rule", "color": "#c4c4c4", "strokeWidth": 1, "clip": true}, "encoding": {"x": {"field": "s", "type": "quantitative", "axis": null}, "y": {"field": "y1", "type": "quantitative"}, "y2": {"field": "y2"}}},
      {"data": {"name": "chain"}, "transform": [{"filter": "datum.p === 'lam0'"}, {"flatten": ["s","v"]}], "mark": {"type": "line", "color": "#bfbfbf", "strokeWidth": 1, "clip": true}, "encoding": {"x": {"field": "s", "type": "quantitative", "axis": {"orient": "top", "domainColor": "#aaaaaa", "domainWidth": 2.5, "ticks": false, "labels": false, "title": null}}, "y": {"field": "v", "type": "quantitative"}, "detail": {"field": "c", "type": "nominal"}}},
      {"data": {"name": "band"}, "transform": [{"filter": "datum.p === 'lam0'"}, {"flatten": ["s","l1","h1","l2","h2"]}], "mark": {"type": "area", "color": "#383838", "opacity": 0.88, "clip": true}, "encoding": {"x": {"field": "s", "type": "quantitative", "axis": {"orient": "bottom", "values": [-10,10,20,30,40,60,70,80,90,110,120,130,140,160,170,180,190,210,220,230,240,260,270,280,290,310,320,330,340,360], "tickSize": 4, "domain": false, "labels": false, "title": null}}, "y": {"field": "l1", "type": "quantitative"}, "y2": {"field": "h1"}}}
    ]},
    {"width": 1006, "height": 50, "resolve": {"axis": {"x": "independent", "y": "independent"}}, "layer": [
      {"data": {"name": "band"}, "transform": [{"filter": "datum.p === 'insec1'"}, {"flatten": ["s","l1","h1","l2","h2"]}], "mark": {"type": "area", "color": "#7a7a7a", "opacity": 0.5, "clip": true}, "encoding": {"x": {"field": "s", "type": "quantitative", "scale": {"domain": [-17, 363], "nice": false, "zero": false}, "axis": {"orient": "bottom", "values": [0,50,100,150,200,250,300,350], "title": null}}, "y": {"field": "l2", "type": "quantitative", "scale": {"domain": [0.037, 0.359], "nice": false, "zero": false}, "axis": {"orient": "left", "values": [0.1,0.3], "format": ".1f", "title": "insec1"}}, "y2": {"field": "h2"}}},
      {"data": {"name": "chain"}, "transform": [{"filter": "datum.p === 'insec1'"}, {"flatten": ["s","v"]}], "mark": {"type": "line", "color": "#c4c4c4", "strokeWidth": 1, "clip": true}, "encoding": {"x": {"field": "s", "type": "quantitative", "axis": {"orient": "top", "domainColor": "#aaaaaa", "domainWidth": 2.5, "ticks": false, "labels": false, "title": null}}, "y": {"field": "v", "type": "quantitative", "axis": {"orient": "left", "values": [0.2], "format": ".1f", "domain": false, "title": null}}, "detail": {"field": "c", "type": "nominal"}}},
      {"data": {"name": "band"}, "transform": [{"filter": "datum.p === 'insec1'"}, {"flatten": ["s","l1","h1","l2","h2"]}], "mark": {"type": "area", "color": "#404040", "opacity": 0.85, "clip": true}, "encoding": {"x": {"field": "s", "type": "quantitative", "axis": {"orient": "bottom", "values": [-10,10,20,30,40,60,70,80,90,110,120,130,140,160,170,180,190,210,220,230,240,260,270,280,290,310,320,330,340,360], "tickSize": 4, "domain": false, "labels": false, "title": null}}, "y": {"field": "l1", "type": "quantitative", "axis": null}, "y2": {"field": "h1"}}}
    ]},
    {"width": 1006, "height": 50, "resolve": {"axis": {"x": "independent", "y": "independent"}}, "layer": [
      {"data": {"name": "band"}, "transform": [{"filter": "datum.p === 'tau1'"}, {"flatten": ["s","l1","h1","l2","h2"]}], "mark": {"type": "area", "color": "#7a7a7a", "opacity": 0.5, "clip": true}, "encoding": {"x": {"field": "s", "type": "quantitative", "scale": {"domain": [-17, 363], "nice": false, "zero": false}, "axis": {"orient": "bottom", "values": [0,50,100,150,200,250,300,350], "title": null}}, "y": {"field": "l2", "type": "quantitative", "scale": {"domain": [5.4, 37.7], "nice": false, "zero": false}, "axis": {"orient": "left", "values": [10,30], "format": "d", "title": "tau1"}}, "y2": {"field": "h2"}}},
      {"data": {"name": "jump"}, "transform": [{"filter": "datum.p === 'tau1'"}, {"flatten": ["s"]}], "mark": {"type": "rule", "color": "#c4c4c4", "strokeWidth": 1, "clip": true}, "encoding": {"x": {"field": "s", "type": "quantitative", "axis": null}, "y": {"field": "y1", "type": "quantitative", "axis": null}, "y2": {"field": "y2"}}},
      {"data": {"name": "chain"}, "transform": [{"filter": "datum.p === 'tau1'"}, {"flatten": ["s","v"]}], "mark": {"type": "line", "color": "#bfbfbf", "strokeWidth": 1, "clip": true}, "encoding": {"x": {"field": "s", "type": "quantitative", "axis": {"orient": "top", "domainColor": "#aaaaaa", "domainWidth": 2.5, "ticks": false, "labels": false, "title": null}}, "y": {"field": "v", "type": "quantitative", "axis": {"orient": "left", "values": [20], "format": "d", "domain": false, "title": null}}, "detail": {"field": "c", "type": "nominal"}}},
      {"data": {"name": "band"}, "transform": [{"filter": "datum.p === 'tau1'"}, {"flatten": ["s","l1","h1","l2","h2"]}], "mark": {"type": "area", "color": "#222222", "opacity": 0.95, "clip": true}, "encoding": {"x": {"field": "s", "type": "quantitative", "axis": {"orient": "bottom", "values": [-10,10,20,30,40,60,70,80,90,110,120,130,140,160,170,180,190,210,220,230,240,260,270,280,290,310,320,330,340,360], "tickSize": 4, "domain": false, "labels": false, "title": null}}, "y": {"field": "l1", "type": "quantitative", "axis": null}, "y2": {"field": "h1"}}}
    ]},
    {"width": 1006, "height": 50, "resolve": {"axis": {"x": "independent", "y": "independent"}}, "layer": [
      {"data": {"name": "band"}, "transform": [{"filter": "datum.p === 'esinos1'"}, {"flatten": ["s","l1","h1","l2","h2"]}], "mark": {"type": "area", "color": "#7a7a7a", "opacity": 0.5, "clip": true}, "encoding": {"x": {"field": "s", "type": "quantitative", "scale": {"domain": [-17, 363], "nice": false, "zero": false}, "axis": {"orient": "bottom", "values": [0,50,100,150,200,250,300,350], "title": null}}, "y": {"field": "l2", "type": "quantitative", "scale": {"domain": [-0.944, 0.763], "nice": false, "zero": false}, "axis": {"orient": "left", "values": [-0.5,0.5], "format": ".1f", "title": "esinos1"}}, "y2": {"field": "h2"}}},
      {"data": {"name": "jump"}, "transform": [{"filter": "datum.p === 'esinos1'"}, {"flatten": ["s"]}], "mark": {"type": "rule", "color": "#c4c4c4", "strokeWidth": 1, "clip": true}, "encoding": {"x": {"field": "s", "type": "quantitative", "axis": null}, "y": {"field": "y1", "type": "quantitative", "axis": null}, "y2": {"field": "y2"}}},
      {"data": {"name": "chain"}, "transform": [{"filter": "datum.p === 'esinos1'"}, {"flatten": ["s","v"]}], "mark": {"type": "line", "color": "#bfbfbf", "strokeWidth": 1, "clip": true}, "encoding": {"x": {"field": "s", "type": "quantitative", "axis": {"orient": "top", "domainColor": "#aaaaaa", "domainWidth": 2.5, "ticks": false, "labels": false, "title": null}}, "y": {"field": "v", "type": "quantitative", "axis": {"orient": "left", "values": [0], "format": ".1f", "domain": false, "title": null}}, "detail": {"field": "c", "type": "nominal"}}},
      {"data": {"name": "band"}, "transform": [{"filter": "datum.p === 'esinos1'"}, {"flatten": ["s","l1","h1","l2","h2"]}], "mark": {"type": "area", "color": "#383838", "opacity": 0.88, "clip": true}, "encoding": {"x": {"field": "s", "type": "quantitative", "axis": {"orient": "bottom", "values": [-10,10,20,30,40,60,70,80,90,110,120,130,140,160,170,180,190,210,220,230,240,260,270,280,290,310,320,330,340,360], "tickSize": 4, "domain": false, "labels": false, "title": null}}, "y": {"field": "l1", "type": "quantitative", "axis": null}, "y2": {"field": "h1"}}}
    ]},
    {"width": 1006, "height": 50, "resolve": {"axis": {"x": "independent"}}, "layer": [
      {"data": {"name": "band"}, "transform": [{"filter": "datum.p === 'ecoses1'"}, {"flatten": ["s","l1","h1","l2","h2"]}], "mark": {"type": "area", "color": "#7a7a7a", "opacity": 0.5, "clip": true}, "encoding": {"x": {"field": "s", "type": "quantitative", "scale": {"domain": [-17, 363], "nice": false, "zero": false}, "axis": {"orient": "bottom", "values": [0,50,100,150,200,250,300,350], "title": null}}, "y": {"field": "l2", "type": "quantitative", "scale": {"domain": [-0.597, 1.016], "nice": false, "zero": false}, "axis": {"orient": "left", "values": [0,1], "format": "d", "title": "ecoses1"}}, "y2": {"field": "h2"}}},
      {"data": {"name": "chain"}, "transform": [{"filter": "datum.p === 'ecoses1'"}, {"flatten": ["s","v"]}], "mark": {"type": "line", "color": "#c4c4c4", "strokeWidth": 1, "clip": true}, "encoding": {"x": {"field": "s", "type": "quantitative", "axis": {"orient": "top", "domainColor": "#aaaaaa", "domainWidth": 2.5, "ticks": false, "labels": false, "title": null}}, "y": {"field": "v", "type": "quantitative"}, "detail": {"field": "c", "type": "nominal"}}},
      {"data": {"name": "band"}, "transform": [{"filter": "datum.p === 'ecoses1'"}, {"flatten": ["s","l1","h1","l2","h2"]}], "mark": {"type": "area", "color": "#404040", "opacity": 0.85, "clip": true}, "encoding": {"x": {"field": "s", "type": "quantitative", "axis": {"orient": "bottom", "values": [-10,10,20,30,40,60,70,80,90,110,120,130,140,160,170,180,190,210,220,230,240,260,270,280,290,310,320,330,340,360], "tickSize": 4, "domain": false, "labels": false, "title": null}}, "y": {"field": "l1", "type": "quantitative"}, "y2": {"field": "h1"}}}
    ]},
    {"width": 1006, "height": 50, "resolve": {"axis": {"x": "independent"}}, "layer": [
      {"data": {"name": "band"}, "transform": [{"filter": "datum.p === 'inc1'"}, {"flatten": ["s","l1","h1","l2","h2"]}], "mark": {"type": "area", "color": "#7a7a7a", "opacity": 0.5, "clip": true}, "encoding": {"x": {"field": "s", "type": "quantitative", "scale": {"domain": [-17, 363], "nice": false, "zero": false}, "axis": {"orient": "bottom", "values": [0,50,100,150,200,250,300,350], "title": null}}, "y": {"field": "l2", "type": "quantitative", "scale": {"domain": [1.52, 3.25], "nice": false, "zero": false}, "axis": {"orient": "left", "values": [2,3], "format": "d", "title": "inc1"}}, "y2": {"field": "h2"}}},
      {"data": {"name": "jump"}, "transform": [{"filter": "datum.p === 'inc1'"}, {"flatten": ["s"]}], "mark": {"type": "rule", "color": "#c4c4c4", "strokeWidth": 1, "clip": true}, "encoding": {"x": {"field": "s", "type": "quantitative", "axis": null}, "y": {"field": "y1", "type": "quantitative"}, "y2": {"field": "y2"}}},
      {"data": {"name": "chain"}, "transform": [{"filter": "datum.p === 'inc1'"}, {"flatten": ["s","v"]}], "mark": {"type": "line", "color": "#bfbfbf", "strokeWidth": 1, "clip": true}, "encoding": {"x": {"field": "s", "type": "quantitative", "axis": {"orient": "top", "domainColor": "#aaaaaa", "domainWidth": 2.5, "ticks": false, "labels": false, "title": null}}, "y": {"field": "v", "type": "quantitative"}, "detail": {"field": "c", "type": "nominal"}}},
      {"data": {"name": "band"}, "transform": [{"filter": "datum.p === 'inc1'"}, {"flatten": ["s","l1","h1","l2","h2"]}], "mark": {"type": "area", "color": "#222222", "opacity": 0.95, "clip": true}, "encoding": {"x": {"field": "s", "type": "quantitative", "axis": {"orient": "bottom", "values": [-10,10,20,30,40,60,70,80,90,110,120,130,140,160,170,180,190,210,220,230,240,260,270,280,290,310,320,330,340,360], "tickSize": 4, "domain": false, "labels": false, "title": null}}, "y": {"field": "l1", "type": "quantitative"}, "y2": {"field": "h1"}}}
    ]},
    {"width": 1006, "height": 50, "resolve": {"axis": {"x": "independent"}}, "layer": [
      {"data": {"name": "band"}, "transform": [{"filter": "datum.p === 'asc1'"}, {"flatten": ["s","l1","h1","l2","h2"]}], "mark": {"type": "area", "color": "#7a7a7a", "opacity": 0.5, "clip": true}, "encoding": {"x": {"field": "s", "type": "quantitative", "scale": {"domain": [-17, 363], "nice": false, "zero": false}, "axis": {"orient": "bottom", "values": [0,50,100,150,200,250,300,350], "title": null}}, "y": {"field": "l2", "type": "quantitative", "scale": {"domain": [1.48, 5.31], "nice": false, "zero": false}, "axis": {"orient": "left", "values": [2.5,5], "format": ".1f", "title": "asc1"}}, "y2": {"field": "h2"}}},
      {"data": {"name": "jump"}, "transform": [{"filter": "datum.p === 'asc1'"}, {"flatten": ["s"]}], "mark": {"type": "rule", "color": "#c4c4c4", "strokeWidth": 1, "clip": true}, "encoding": {"x": {"field": "s", "type": "quantitative", "axis": null}, "y": {"field": "y1", "type": "quantitative"}, "y2": {"field": "y2"}}},
      {"data": {"name": "chain"}, "transform": [{"filter": "datum.p === 'asc1'"}, {"flatten": ["s","v"]}], "mark": {"type": "line", "color": "#bfbfbf", "strokeWidth": 1, "clip": true}, "encoding": {"x": {"field": "s", "type": "quantitative", "axis": {"orient": "top", "domainColor": "#aaaaaa", "domainWidth": 2.5, "ticks": false, "labels": false, "title": null}}, "y": {"field": "v", "type": "quantitative"}, "detail": {"field": "c", "type": "nominal"}}},
      {"data": {"name": "band"}, "transform": [{"filter": "datum.p === 'asc1'"}, {"flatten": ["s","l1","h1","l2","h2"]}], "mark": {"type": "area", "color": "#222222", "opacity": 0.95, "clip": true}, "encoding": {"x": {"field": "s", "type": "quantitative", "axis": {"orient": "bottom", "values": [-10,10,20,30,40,60,70,80,90,110,120,130,140,160,170,180,190,210,220,230,240,260,270,280,290,310,320,330,340,360], "tickSize": 4, "domain": false, "labels": false, "title": null}}, "y": {"field": "l1", "type": "quantitative"}, "y2": {"field": "h1"}}}
    ]},
    {"width": 1006, "height": 50, "resolve": {"axis": {"x": "independent"}}, "layer": [
      {"data": {"name": "band"}, "transform": [{"filter": "datum.p === 'lam1'"}, {"flatten": ["s","l1","h1","l2","h2"]}], "mark": {"type": "area", "color": "#7a7a7a", "opacity": 0.5, "clip": true}, "encoding": {"x": {"field": "s", "type": "quantitative", "scale": {"domain": [-17, 363], "nice": false, "zero": false}, "axis": {"orient": "bottom", "values": [0,50,100,150,200,250,300,350], "title": null}}, "y": {"field": "l2", "type": "quantitative", "scale": {"domain": [0.86, 3.0], "nice": false, "zero": false}, "axis": {"orient": "left", "values": [1,2], "format": "d", "title": "lam1"}}, "y2": {"field": "h2"}}},
      {"data": {"name": "chain"}, "transform": [{"filter": "datum.p === 'lam1'"}, {"flatten": ["s","v"]}], "mark": {"type": "line", "color": "#c4c4c4", "strokeWidth": 1, "clip": true}, "encoding": {"x": {"field": "s", "type": "quantitative", "axis": {"orient": "top", "domainColor": "#aaaaaa", "domainWidth": 2.5, "ticks": false, "labels": false, "title": null}}, "y": {"field": "v", "type": "quantitative"}, "detail": {"field": "c", "type": "nominal"}}},
      {"data": {"name": "band"}, "transform": [{"filter": "datum.p === 'lam1'"}, {"flatten": ["s","l1","h1","l2","h2"]}], "mark": {"type": "area", "color": "#383838", "opacity": 0.88, "clip": true}, "encoding": {"x": {"field": "s", "type": "quantitative", "axis": {"orient": "bottom", "values": [-10,10,20,30,40,60,70,80,90,110,120,130,140,160,170,180,190,210,220,230,240,260,270,280,290,310,320,330,340,360], "tickSize": 4, "domain": false, "labels": false, "title": null}}, "y": {"field": "l1", "type": "quantitative"}, "y2": {"field": "h1"}}}
    ]},
    {"width": 1006, "height": 50, "resolve": {"axis": {"x": "independent"}}, "layer": [
      {"data": {"name": "band"}, "transform": [{"filter": "datum.p === 'jitter'"}, {"flatten": ["s","l1","h1","l2","h2"]}], "mark": {"type": "area", "color": "#7a7a7a", "opacity": 0.5, "clip": true}, "encoding": {"x": {"field": "s", "type": "quantitative", "scale": {"domain": [-17, 363], "nice": false, "zero": false}, "axis": {"orient": "bottom", "values": [0,50,100,150,200,250,300,350], "title": null}}, "y": {"field": "l2", "type": "quantitative", "scale": {"domain": [-23, 435], "nice": false, "zero": false}, "axis": {"orient": "left", "values": [0,250], "format": "d", "title": "jitter"}}, "y2": {"field": "h2"}}},
      {"data": {"name": "chain"}, "transform": [{"filter": "datum.p === 'jitter'"}, {"flatten": ["s","v"]}], "mark": {"type": "line", "color": "#c8c8c8", "strokeWidth": 1, "clip": true}, "encoding": {"x": {"field": "s", "type": "quantitative", "axis": {"orient": "top", "domainColor": "#aaaaaa", "domainWidth": 2.5, "ticks": false, "labels": false, "title": null}}, "y": {"field": "v", "type": "quantitative"}, "detail": {"field": "c", "type": "nominal"}}},
      {"data": {"name": "band"}, "transform": [{"filter": "datum.p === 'jitter'"}, {"flatten": ["s","l1","h1","l2","h2"]}], "mark": {"type": "area", "color": "#111111", "opacity": 1, "clip": true}, "encoding": {"x": {"field": "s", "type": "quantitative", "axis": {"orient": "bottom", "values": [-10,10,20,30,40,60,70,80,90,110,120,130,140,160,170,180,190,210,220,230,240,260,270,280,290,310,320,330,340,360], "tickSize": 4, "domain": false, "labels": false, "title": null}}, "y": {"field": "l1", "type": "quantitative"}, "y2": {"field": "h1"}}}
    ]},
    {"width": 1006, "height": 50, "resolve": {"axis": {"x": "independent"}}, "layer": [
      {"data": {"name": "band"}, "transform": [{"filter": "datum.p === 'lnp'"}, {"flatten": ["s","l1","h1","l2","h2"]}], "mark": {"type": "area", "color": "#7a7a7a", "opacity": 0.5, "clip": true}, "encoding": {"x": {"field": "s", "type": "quantitative", "scale": {"domain": [-17, 363], "nice": false, "zero": false}, "axis": {"orient": "bottom", "values": [0,50,100,150,200,250,300,350], "labels": true, "title": "sample", "labelPadding": 7, "titlePadding": 1}}, "y": {"field": "l2", "type": "quantitative", "scale": {"domain": [-1382, 88], "nice": false, "zero": false}, "axis": {"orient": "left", "values": [-1000,-500], "format": "d", "title": "lnp"}}, "y2": {"field": "h2"}}},
      {"data": {"name": "chain"}, "transform": [{"filter": "datum.p === 'lnp'"}, {"flatten": ["s","v"]}], "mark": {"type": "line", "color": "#c8c8c8", "strokeWidth": 1, "clip": true}, "encoding": {"x": {"field": "s", "type": "quantitative", "axis": {"orient": "top", "domainColor": "#aaaaaa", "domainWidth": 2.5, "ticks": false, "labels": false, "title": null}}, "y": {"field": "v", "type": "quantitative"}, "detail": {"field": "c", "type": "nominal"}}},
      {"data": {"name": "band"}, "transform": [{"filter": "datum.p === 'lnp'"}, {"flatten": ["s","l1","h1","l2","h2"]}], "mark": {"type": "area", "color": "#111111", "opacity": 1, "clip": true}, "encoding": {"x": {"field": "s", "type": "quantitative", "axis": {"orient": "bottom", "values": [-10,10,20,30,40,60,70,80,90,110,120,130,140,160,170,180,190,210,220,230,240,260,270,280,290,310,320,330,340,360], "tickSize": 4, "domain": false, "labels": false, "title": null}}, "y": {"field": "l1", "type": "quantitative"}, "y2": {"field": "h1"}}}
    ]}
  ],
  "config": {
    "view": {"stroke": null},
    "axis": {"grid": false, "labelFont": "DejaVu Sans", "titleFont": "DejaVu Sans", "labelFontSize": 26, "titleFontSize": 26, "titleFontWeight": "normal", "labelColor": "#000000", "titleColor": "#000000", "domainColor": "#000000", "tickColor": "#000000", "domainWidth": 1.6, "tickWidth": 1.2, "tickSize": 7, "labelPadding": 6, "labelFlush": false, "labelOverlap": false, "labelBound": false, "zindex": 1},
    "axisX": {"labels": false},
    "axisY": {"titleX": -115, "titleBaseline": "middle"}
  }
}
